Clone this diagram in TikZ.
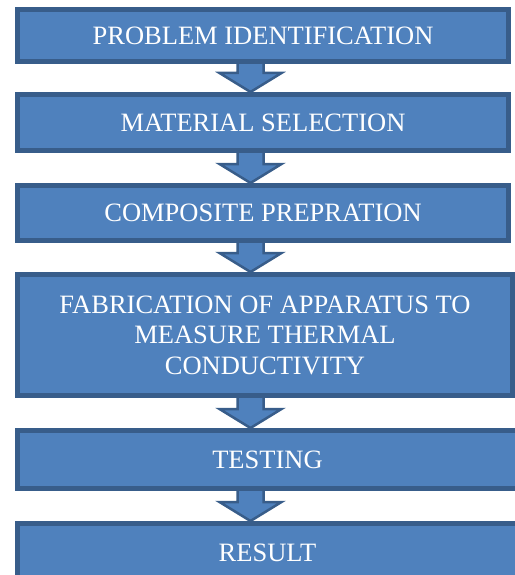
\documentclass[tikz,border=0pt]{standalone}
\usepackage{fontspec}
\setmainfont{Liberation Serif}
\usetikzlibrary{calc}
\pgfdeclarelayer{background}
\pgfsetlayers{background,main}
\definecolor{boxfill}{HTML}{4F81BD}
\definecolor{boxline}{HTML}{385D8A}
\tikzset{
  stagebox/.style={rectangle, draw=boxline, line width=5pt, fill=boxfill,
    text=white, align=center, inner sep=0pt,
    font=\fontsize{26.5}{30.5}\selectfont},
  flowarrow/.style={draw=boxline, line width=2.5pt, fill=boxfill, line join=miter}
}
% block arrow from the bottom of box #1 to the top of box #2, on the shared axis
\newcommand\blockarrow[2]{%
  \begin{pgfonlayer}{background}
  \draw[flowarrow]
    ($(#1.south -| axis)+(-13,-3)$) -- ($(#1.south -| axis)+(13,-3)$)
    -- ($(#2.north -| axis)+(13,-19)$) -- ($(#2.north -| axis)+(31,-19)$)
    -- (#2.north -| axis)
    -- ($(#2.north -| axis)+(-31,-19)$) -- ($(#2.north -| axis)+(-13,-19)$)
    -- cycle;
  \end{pgfonlayer}}
\begin{document}
\begin{tikzpicture}[x=1pt,y=-1pt]
  \useasboundingbox (0,0) rectangle (514,575);
  \coordinate (axis) at (250.5,0);

  \node[stagebox, minimum width=491pt, minimum height=52pt] (s1) at (263,35.5)
    {PROBLEM IDENTIFICATION};
  \node[stagebox, minimum width=491pt, minimum height=56pt] (s2) at (263,122.5)
    {MATERIAL SELECTION};
  \node[stagebox, minimum width=491pt, minimum height=55pt] (s3) at (263,213)
    {COMPOSITE PREPRATION};
  \node[stagebox, minimum width=495pt, minimum height=121pt] (s4) at (265,335)
    {FABRICATION OF APPARATUS TO\\MEASURE THERMAL\\CONDUCTIVITY};
  \node[stagebox, minimum width=500pt, minimum height=58pt] (s5) at (267.5,459.5)
    {TESTING};
  \node[stagebox, minimum width=500pt, minimum height=58pt] (s6) at (267.5,552.5)
    {RESULT};

  \blockarrow{s1}{s2}
  \blockarrow{s2}{s3}
  \blockarrow{s3}{s4}
  \blockarrow{s4}{s5}
  \blockarrow{s5}{s6}
\end{tikzpicture}
\end{document}
